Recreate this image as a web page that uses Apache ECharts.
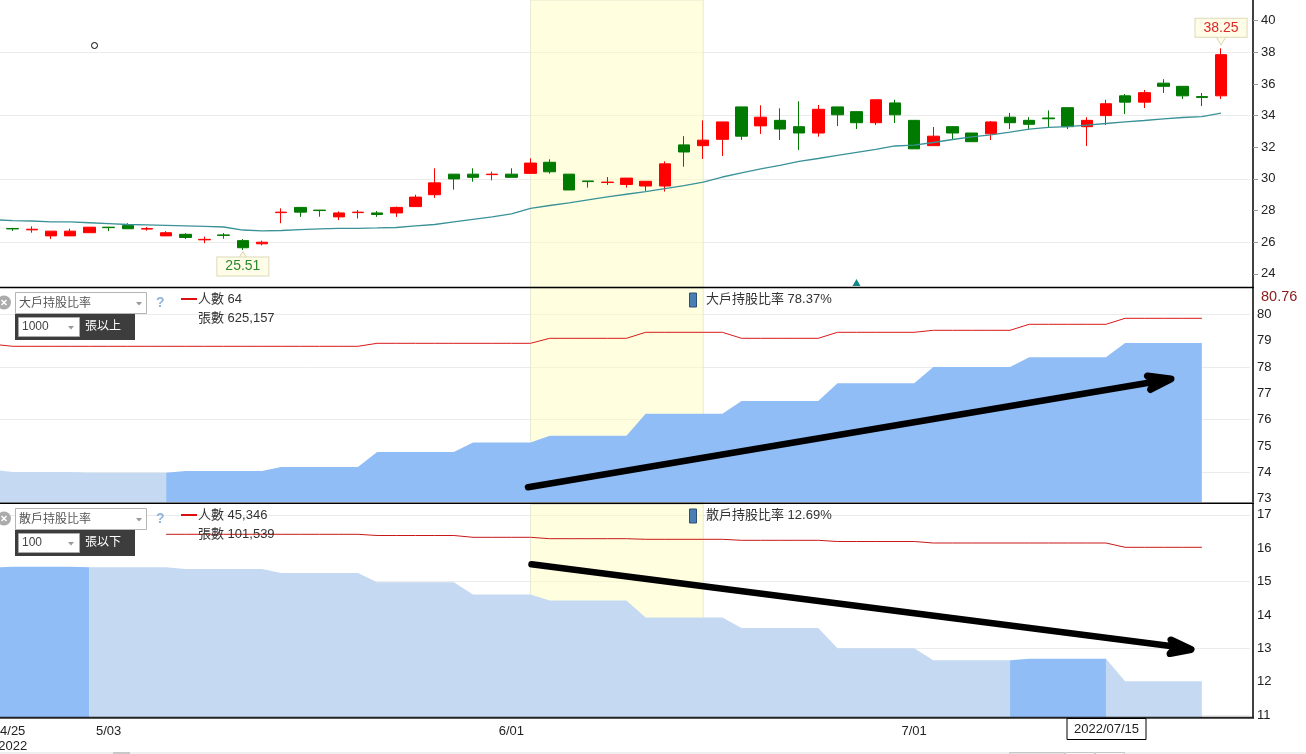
<!DOCTYPE html>
<html>
<head>
<meta charset="utf-8">
<style>
    html, body { margin: 0; padding: 0; background: #fff; }
    #chart { width: 1306px; height: 754px; }
</style>
<script src="https://cdn.jsdelivr.net/npm/echarts@6/dist/echarts.min.js"></script>
</head>
<body>
<div id="chart"></div>
<script>
const dates = [
    '2022/04/22', '2022/04/25', '2022/04/26', '2022/04/27', '2022/04/28', '2022/04/29',
    '2022/05/03', '2022/05/04', '2022/05/05', '2022/05/06',
    '2022/05/09', '2022/05/10', '2022/05/11', '2022/05/12', '2022/05/13',
    '2022/05/16', '2022/05/17', '2022/05/18', '2022/05/19', '2022/05/20',
    '2022/05/23', '2022/05/24', '2022/05/25', '2022/05/26', '2022/05/27',
    '2022/05/30', '2022/05/31', '2022/06/01', '2022/06/02',
    '2022/06/06', '2022/06/07', '2022/06/08', '2022/06/09', '2022/06/10',
    '2022/06/13', '2022/06/14', '2022/06/15', '2022/06/16', '2022/06/17',
    '2022/06/20', '2022/06/21', '2022/06/22', '2022/06/23', '2022/06/24',
    '2022/06/27', '2022/06/28', '2022/06/29', '2022/06/30', '2022/07/01',
    '2022/07/04', '2022/07/05', '2022/07/06', '2022/07/07', '2022/07/08',
    '2022/07/11', '2022/07/12', '2022/07/13', '2022/07/14', '2022/07/15',
    '2022/07/18', '2022/07/19', '2022/07/20', '2022/07/21', '2022/07/22',
    '2022/07/25', '2022/07/26'
];
const dateLabels = ['2022/04/25', '2022/05/03', '2022/06/01', '2022/07/01'];

// K line, the first day sits off the left edge
const priceOpen = ['-', 26.87, 26.78, 26.4, 26.4, 26.6, 26.95, 27.05, 26.83, 26.4, 26.5,
    26.15, 26.46, 26.1, 25.9, 27.87, 28.2, 28.03, 27.6, 27.87, 27.85,
    27.85, 28.25, 29, 30.3, 30.3, 30.27, 30.3, 30.35, 31.05, 30.3,
    29.87, 29.77, 29.65, 29.55, 29.55, 32.15, 32.1, 32.5, 34.55, 33.35,
    33.7, 33.3, 32.9, 34.55, 34.25, 33.55, 34.8, 33.7, 32.1, 33.3,
    32.9, 32.85, 33.9, 33.7, 33.85, 34.5, 33.3, 34, 35.25, 34.85,
    36.05, 35.85, 35.2, 35.25];
const priceClose = ['-', 26.84, 26.82, 26.7, 26.7, 26.95, 26.92, 26.85, 26.86, 26.6, 26.3,
    26.18, 26.43, 25.65, 26, 27.9, 27.9, 28, 27.85, 27.9, 27.75,
    28.2, 28.85, 29.75, 30, 30.1, 30.3, 30.1, 31, 30.45, 29.3,
    29.83, 29.8, 30.05, 29.85, 30.95, 31.7, 32.45, 33.6, 32.7, 33.9,
    33.15, 32.9, 34.4, 34.05, 33.55, 35, 34.05, 31.9, 32.7, 32.9,
    32.35, 33.6, 33.55, 33.45, 33.8, 33.3, 33.7, 34.75, 34.85, 35.45,
    35.85, 35.25, 35.15, 37.85];
const priceLow = ['-', 26.71, 26.6, 26.2, 26.4, 26.6, 26.7, 26.85, 26.73, 26.4, 26.2,
    25.94, 26.22, 25.51, 25.8, 27.2, 27.6, 27.61, 27.4, 27.5, 27.6,
    27.6, 28.25, 28.8, 29.32, 29.82, 29.91, 30.1, 30.35, 30.33, 29.3,
    29.45, 29.62, 29.45, 29.24, 29.2, 30.77, 31.26, 31.45, 32.46, 32.84,
    32.46, 31.83, 32.67, 33.34, 33.15, 33.4, 33.53, 31.9, 32.1, 32.52,
    32.35, 32.46, 33.15, 33.11, 33.28, 33.15, 32.08, 33.4, 34.1, 34.48,
    35.43, 35.05, 34.6, 35.05];
const priceHigh = ['-', 26.9, 27, 26.7, 26.85, 26.95, 26.95, 27.2, 26.96, 26.7, 26.57,
    26.35, 26.58, 26.2, 26.1, 28.14, 28.2, 28.03, 27.95, 28.03, 27.97,
    28.25, 29, 30.67, 30.3, 30.67, 30.46, 30.67, 31.3, 31.24, 30.3,
    29.87, 30.12, 30.05, 29.85, 31.11, 32.7, 33.7, 33.6, 34.55, 34.65,
    34.46, 34.9, 34.67, 34.55, 34.25, 35, 35, 33.7, 33.28, 33.34,
    32.9, 33.66, 34.17, 33.9, 34.33, 34.5, 33.9, 35, 35.36, 35.62,
    36.3, 35.85, 35.43, 38.25];
const priceMa = [27.42, 27.37, 27.34, 27.28, 27.28, 27.23, 27.18, 27.12, 27.09, 27.06, 27.03,
    27, 26.96, 26.77, 26.71, 26.74, 26.79, 26.84, 26.87, 26.88, 26.9,
    26.93, 27.03, 27.12, 27.28, 27.44, 27.6, 27.79, 28.14, 28.32, 28.48,
    28.67, 28.86, 29.03, 29.2, 29.38, 29.57, 29.79, 30.12, 30.38, 30.63,
    30.85, 31.11, 31.29, 31.48, 31.67, 31.86, 32.08, 32.14, 32.3, 32.49,
    32.65, 32.78, 32.96, 33.15, 33.25, 33.3, 33.4, 33.5, 33.6, 33.69,
    33.79, 33.88, 33.94, 34.15];
const priceMaxLabel = 38.25;
const priceMinLabel = 25.51;

// 大戶
const bigRatio = [74.09, 74.01, 74.01, 74.01, 74.01, 73.98, 73.98, 73.98, 73.98, 73.98,
    74.05, 74.05, 74.05, 74.05, 74.05, 74.2, 74.2, 74.2, 74.2, 74.2,
    74.77, 74.77, 74.77, 74.77, 74.77, 75.13, 75.13, 75.13, 75.13,
    75.39, 75.39, 75.39, 75.39, 75.39, 76.22, 76.22, 76.22, 76.22, 76.22,
    76.71, 76.71, 76.71, 76.71, 76.71, 77.38, 77.38, 77.38, 77.38, 77.38,
    78, 78, 78, 78, 78, 78.37, 78.37, 78.37, 78.37, 78.37,
    78.91, 78.91, 78.91, 78.91, 78.91];
const bigPeople = [51, 50, 50, 50, 50, 50, 50, 50, 50, 50,
    50, 50, 50, 50, 50, 50, 50, 50, 50, 50,
    51.5, 51.5, 51.5, 51.5, 51.5, 51.5, 51.5, 51.5, 51.5,
    54, 54, 54, 54, 54, 57, 57, 57, 57, 57,
    54, 54, 54, 54, 54, 57, 57, 57, 57, 57,
    58, 58, 58, 58, 58, 61, 61, 61, 61, 61,
    64, 64, 64, 64, 64];

// 散戶
const smallRatio = [15.42, 15.45, 15.45, 15.45, 15.45, 15.43, 15.43, 15.43, 15.43, 15.43,
    15.38, 15.38, 15.38, 15.38, 15.38, 15.26, 15.26, 15.26, 15.26, 15.26,
    14.98, 14.98, 14.98, 14.98, 14.98, 14.62, 14.62, 14.62, 14.62,
    14.44, 14.44, 14.44, 14.44, 14.44, 13.93, 13.93, 13.93, 13.93, 13.93,
    13.61, 13.61, 13.61, 13.61, 13.61, 13.01, 13.01, 13.01, 13.01, 13.01,
    12.65, 12.65, 12.65, 12.65, 12.65, 12.69, 12.69, 12.69, 12.69, 12.69,
    12.02, 12.02, 12.02, 12.02, 12.02];
const smallPeople = ['-', '-', '-', '-', '-', '-', '-', '-', '-', 45996,
    45996, 45996, 45996, 45996, 45996, 45996, 45996, 45996, 45996, 45996,
    45936, 45936, 45936, 45936, 45936, 45846, 45846, 45846, 45846,
    45776, 45776, 45776, 45776, 45776, 45746, 45746, 45746, 45746, 45746,
    45696, 45696, 45696, 45696, 45696, 45636, 45636, 45636, 45636, 45636,
    45561, 45561, 45561, 45561, 45561, 45561, 45561, 45561, 45561, 45561,
    45346, 45346, 45346, 45346, 45346];

const priceTicks = [24, 26, 28, 30, 32, 34, 36, 38, 40];
const priceLines = [26, 30, 34, 38];
const bigTicks = [73, 74, 75, 76, 77, 78, 79, 80];
const bigLines = [74, 76, 78, 80];
const smallTicks = [11, 12, 13, 14, 15, 16, 17];
const smallLines = [11, 13, 15, 17];

const numberFont = '"Liberation Sans", Arial, sans-serif';
const textFont = '"Liberation Sans", "Noto Sans CJK TC", sans-serif';
const upColor = '#ff0000';
const downColor = '#007a00';
const lightBlue = '#c5daf2';
const darkBlue = '#90bdf5';

const priceBars = dates.slice(0, priceOpen.length).map(function (d, i) {
    return [priceOpen[i], priceClose[i], priceLow[i], priceHigh[i]];
});

const yellowBand = {
    silent: true,
    z: 1,
    itemStyle: { color: 'rgba(255,255,190,.48)', borderColor: '#e8e8d2', borderWidth: 1 },
    data: [[{ xAxis: '2022/06/02' }, { xAxis: '2022/06/16' }]]
};

// one axis draws line + labels, a second one only the sparser grid lines
function labelAxis(gridIndex, min, max, ticks, margin, tickShow) {
    return {
        type: 'value', gridIndex: gridIndex, position: 'right', offset: 3.2, min: min, max: max,
        axisLine: { show: true, onZero: false, lineStyle: { color: '#000', width: 1.5 } },
        axisTick: { show: tickShow, length: 5, customValues: ticks, lineStyle: { color: '#999' } },
        axisLabel: { customValues: ticks, margin: margin, color: '#222', fontSize: 13, fontFamily: numberFont },
        splitLine: { show: false }
    };
}
function lineAxis(gridIndex, min, max, lines) {
    return {
        type: 'value', gridIndex: gridIndex, position: 'left', min: min, max: max,
        axisLine: { show: false },
        axisTick: { show: false, customValues: lines },
        axisLabel: { show: false },
        splitLine: { show: true, lineStyle: { color: '#ebebeb', width: 1 } }
    };
}
function hiddenAxis(gridIndex, min, max) {
    return { type: 'value', gridIndex: gridIndex, show: false, min: min, max: max, splitLine: { show: false } };
}
function dateAxis(gridIndex, showLabel) {
    return {
        type: 'category', gridIndex: gridIndex, data: dates, boundaryGap: true,
        axisLine: { show: false },
        axisTick: { show: false },
        splitLine: { show: false },
        axisLabel: {
            show: showLabel,
            margin: 7,
            color: '#222',
            fontSize: 13,
            lineHeight: 15,
            fontFamily: numberFont,
            hideOverlap: false,
            interval: function (index, value) { return dateLabels.indexOf(value) >= 0; },
            formatter: function (value) {
                const parts = value.split('/');
                const text = Number(parts[1]) + '/' + parts[2];
                return value === dateLabels[0] ? text + '\n' + parts[0] : text;
            }
        }
    };
}

// one shade of the ratio area, the rest of the days stay empty
function areaPart(name, values, yAxisIndex, xAxisIndex, from, to, color, withBand) {
    return {
        name: name,
        type: 'line',
        xAxisIndex: xAxisIndex,
        yAxisIndex: yAxisIndex,
        showSymbol: false,
        data: values.map(function (v, i) { return i >= from && i <= to ? v : '-'; }),
        lineStyle: { width: 0 },
        itemStyle: { color: color },
        areaStyle: { color: color, opacity: 1 },
        markArea: withBand ? yellowBand : undefined
    };
}

// graphic helpers for the widgets, all drawn above the series
function rect(x, y, w, h, fill, stroke) {
    return { type: 'rect', z: 50, shape: { x: x, y: y, width: w, height: h }, style: { fill: fill, stroke: stroke || null, lineWidth: 1 } };
}
function line(x1, y1, x2, y2, stroke, width) {
    return { type: 'line', z: 50, shape: { x1: x1, y1: y1, x2: x2, y2: y2 }, style: { stroke: stroke, lineWidth: width } };
}
function label(x, y, text, fill, size, extra) {
    return {
        type: 'text', z: 51, x: x, y: y,
        style: Object.assign({ text: text, fill: fill, fontSize: size || 13, fontFamily: textFont, verticalAlign: 'middle' }, extra || {})
    };
}
function caret(x, y) {
    return { type: 'polygon', z: 51, shape: { points: [[x - 3, y - 1.5], [x + 3, y - 1.5], [x, y + 2]] }, style: { fill: '#999' } };
}
function arrow(points, head) {
    return [
        { type: 'polyline', z: 60, shape: { points: points }, style: { stroke: '#000', lineWidth: 6.5, lineCap: 'round', fill: null } },
        { type: 'polygon', z: 60, shape: { points: head }, style: { fill: '#000', stroke: '#000', lineWidth: 7, lineJoin: 'round' } }
    ];
}
function widgets(top, title, amount, unit, people, sheets, legend) {
    const y = top;
    return [
        { type: 'circle', z: 50, shape: { cx: 4, cy: y + 10, r: 7 }, style: { fill: '#ababab' } },
        line(1.5, y + 7.5, 6.5, y + 12.5, '#fff', 1.5),
        line(6.5, y + 7.5, 1.5, y + 12.5, '#fff', 1.5),
        rect(15.5, y, 131, 21, '#fff', '#b5b5b5'),
        label(19, y + 11, title, '#555', 12),
        caret(139, y + 11),
        rect(15, y + 21.5, 120, 26, '#3d3d3d'),
        rect(18.5, y + 25, 61, 19, '#fff', '#aaa'),
        label(22, y + 34.5, amount, '#444', 12),
        caret(71, y + 35),
        label(85, y + 34.5, unit, '#fff', 12),
        label(156, y + 11, '?', '#8fb6d9', 14, { fontWeight: 'bold' }),
        line(181, y + 6.5, 197, y + 6.5, '#d81010', 2),
        label(198, y + 6.5, '人數 ' + people, '#333', 13),
        label(198, y + 25.5, '張數 ' + sheets, '#333', 13),
        rect(689.5, y + 0.5, 7, 14, '#4a7fb5', '#2d4f70'),
        label(706, y + 6.5, legend, '#333', 13)
    ];
}

const graphics = [].concat(
    // panel frame lines
    line(0, 287.5, 1254, 287.5, '#000', 1.5),
    line(0, 503.3, 1254, 503.3, '#000', 1.5),
    line(0, 717.8, 1254, 717.8, '#222', 2),
    widgets(292.5, '大戶持股比率', '1000', '張以上', '64', '625,157', '大戶持股比率 78.37%'),
    widgets(508.5, '散戶持股比率', '100', '張以下', '45,346', '101,539', '散戶持股比率 12.69%'),
    arrow([[528, 487.3], [1165, 380]], [[1147.5, 376], [1171, 379], [1150.5, 389.5], [1155, 382]]),
    arrow([[531.5, 564.3], [1186, 648]], [[1171, 640], [1191, 649.5], [1170, 653.5], [1175, 648]]),
    // odds and ends
    { type: 'circle', z: 50, shape: { cx: 94.5, cy: 45.5, r: 3 }, style: { fill: '#fff', stroke: '#000', lineWidth: 1 } },
    { type: 'polygon', z: 50, shape: { points: [[856.5, 279], [860.5, 286], [852.5, 286]] }, style: { fill: '#12858a' } },
    label(1261, 297, '80.76', '#8b1a1a', 14.5, { fontFamily: numberFont }),
    rect(1067, 718.5, 79, 21, '#fff', '#000'),
    label(1106.5, 729.5, '2022/07/15', '#222', 13, { align: 'center', fontFamily: numberFont }),
    // bottom strip of the page
    rect(0, 752, 1306, 2, '#f0f0f0'),
    rect(113, 752, 17, 2, '#c8c8c8'),
    rect(1009.5, 752.5, 55, 2, '#e2e2e2', '#c8c8c8'),
    rect(1065.5, 752.5, 29, 2, '#f4f4f4', '#c8c8c8'),
    rect(1095.5, 752.5, 29, 2, '#f4f4f4', '#c8c8c8')
);

const chartDom = document.getElementById('chart');
const chart = echarts.init(chartDom);

const option = {
    animation: false,
    backgroundColor: '#fff',
    graphic: { elements: graphics },
    grid: [
        { left: -16.07, width: 1265.88, top: 0, height: 287, outerBoundsMode: 'none' },
        { left: -16.07, width: 1265.88, top: 288, height: 214, outerBoundsMode: 'none' },
        { left: -16.07, width: 1265.88, top: 504.5, height: 212.5, outerBoundsMode: 'none' }
    ],
    xAxis: [dateAxis(0, false), dateAxis(1, false), dateAxis(2, true)],
    yAxis: [
        labelAxis(0, 23.17, 41.304, priceTicks, 8, true),
        lineAxis(0, 23.17, 41.304, priceLines),
        labelAxis(1, 72.87, 81, bigTicks, 4, false),
        lineAxis(1, 72.87, 81, bigLines),
        hiddenAxis(1, -27.85, 79.15),
        labelAxis(2, 10.95, 17.31, smallTicks, 4, false),
        lineAxis(2, 10.95, 17.31, smallLines),
        hiddenAxis(2, 36861, 47486)
    ],
    series: [
        {
            name: 'K',
            type: 'candlestick',
            xAxisIndex: 0,
            yAxisIndex: 0,
            z: 3,
            barWidth: 12,
            data: priceBars,
            itemStyle: {
                color: upColor, color0: downColor,
                borderColor: upColor, borderColor0: downColor, borderWidth: 1
            },
            markArea: yellowBand,
            markPoint: {
                silent: true,
                data: [
                    {
                        coord: ['2022/07/25', priceMaxLabel], symbol: 'triangle', symbolRotate: 180,
                        symbolSize: [11, 9], symbolOffset: [0, -8],
                        itemStyle: { color: '#fffde8', borderColor: '#dcdab8', borderWidth: 1 },
                        label: { show: false }
                    },
                    {
                        coord: ['2022/07/25', priceMaxLabel], value: priceMaxLabel, symbolSize: 0,
                        label: {
                            show: true, position: 'inside', offset: [0, -20.5], color: '#dc2a2a', fontSize: 14,
                            fontFamily: numberFont, backgroundColor: '#fffde8', borderColor: '#dcdab8', borderWidth: 1,
                            padding: [2, 8, 2, 8]
                        }
                    },
                    {
                        coord: ['2022/05/12', priceMinLabel], symbol: 'triangle',
                        symbolSize: [11, 9], symbolOffset: [0, 6],
                        itemStyle: { color: '#fffde8', borderColor: '#dcdab8', borderWidth: 1 },
                        label: { show: false }
                    },
                    {
                        coord: ['2022/05/12', priceMinLabel], value: priceMinLabel, symbolSize: 0,
                        label: {
                            show: true, position: 'inside', offset: [0, 16.5], color: '#2c8a2c', fontSize: 14,
                            fontFamily: numberFont, backgroundColor: '#fffde8', borderColor: '#dcdab8', borderWidth: 1,
                            padding: [2, 8, 2, 8]
                        }
                    }
                ]
            }
        },
        {
            name: 'MA',
            type: 'line',
            xAxisIndex: 0,
            yAxisIndex: 0,
            showSymbol: false,
            z: 4,
            data: priceMa,
            lineStyle: { color: '#3a9298', width: 1.3 }
        },
        areaPart('大戶持股比率', bigRatio, 2, 1, 0, 9, lightBlue, true),
        areaPart('大戶持股比率', bigRatio, 2, 1, 9, 64, darkBlue, false),
        {
            name: '人數',
            type: 'line',
            xAxisIndex: 1,
            yAxisIndex: 4,
            showSymbol: false,
            z: 3,
            data: bigPeople,
            lineStyle: { color: '#d81818', width: 1 }
        },
        areaPart('散戶持股比率', smallRatio, 5, 2, 0, 5, darkBlue, true),
        areaPart('散戶持股比率', smallRatio, 5, 2, 5, 53, lightBlue, false),
        areaPart('散戶持股比率', smallRatio, 5, 2, 53, 58, darkBlue, false),
        areaPart('散戶持股比率', smallRatio, 5, 2, 58, 64, lightBlue, false),
        {
            name: '人數',
            type: 'line',
            xAxisIndex: 2,
            yAxisIndex: 7,
            showSymbol: false,
            z: 3,
            data: smallPeople,
            lineStyle: { color: '#c81818', width: 1 }
        }
    ]
};

option && chart.setOption(option);
</script>
</body>
</html>
